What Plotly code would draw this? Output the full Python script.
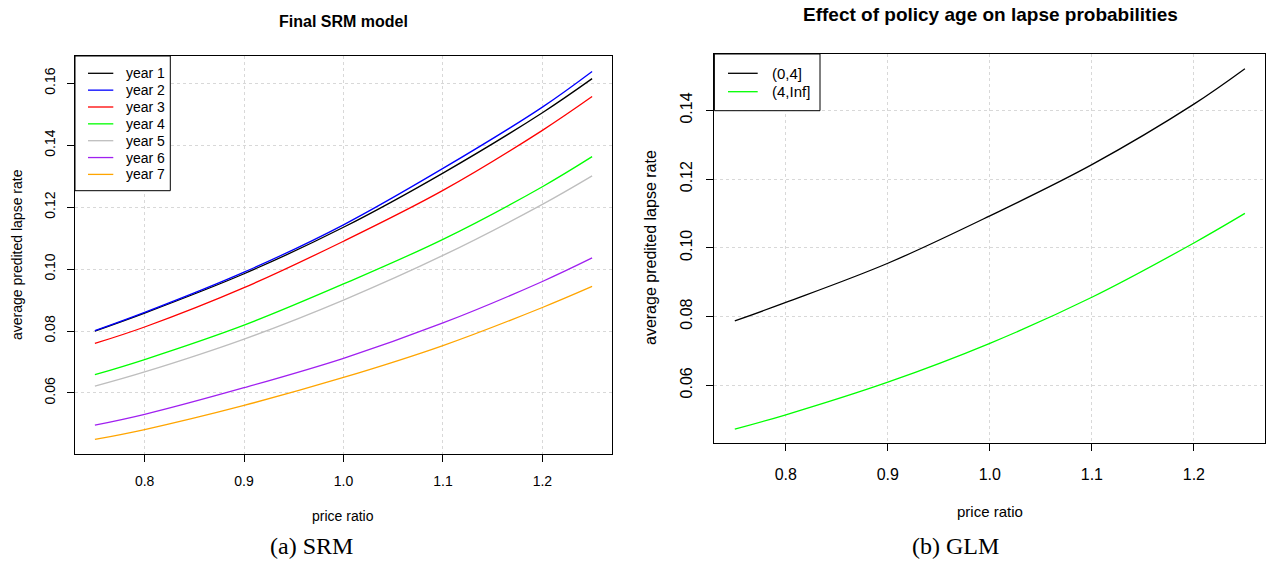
import plotly.graph_objects as go

W, H = 1266, 561

# ---- data ----
price_ratio = [0.75, 0.80, 0.90, 1.00, 1.10, 1.20, 1.25]

srm_names = ["year 1", "year 2", "year 3", "year 4", "year 5", "year 6", "year 7"]
srm_colors = ["#000000", "#0000FF", "#FF0000", "#00FF00", "#BEBEBE", "#A020F0", "#FFA500"]
year1 = [0.0800, 0.0858, 0.0985, 0.1135, 0.1310, 0.1505, 0.1615]
year2 = [0.0801, 0.0860, 0.0990, 0.1143, 0.1325, 0.1523, 0.1638]
year3 = [0.0760, 0.0813, 0.0940, 0.1090, 0.1254, 0.1448, 0.1557]
year4 = [0.0659, 0.0708, 0.0819, 0.0952, 0.1096, 0.1266, 0.1363]
year5 = [0.0622, 0.0668, 0.0774, 0.0900, 0.1044, 0.1209, 0.1301]
year6 = [0.0496, 0.0531, 0.0617, 0.0712, 0.0826, 0.0960, 0.1036]
year7 = [0.0450, 0.0482, 0.0560, 0.0650, 0.0753, 0.0876, 0.0944]
srm_series = [year1, year2, year3, year4, year5, year6, year7]

glm_names = ["(0,4]", "(4,Inf]"]
glm_colors = ["#000000", "#00FF00"]
glm_young = [0.0787, 0.0841, 0.0955, 0.1093, 0.1242, 0.1418, 0.1521]
glm_old = [0.0472, 0.0514, 0.0609, 0.0722, 0.0856, 0.1014, 0.1100]
glm_series = [glm_young, glm_old]

x_ticks = [0.8, 0.9, 1.0, 1.1, 1.2]
srm_y_ticks = [0.06, 0.08, 0.10, 0.12, 0.14, 0.16]
glm_y_ticks = [0.06, 0.08, 0.10, 0.12, 0.14]

FONT = "Liberation Sans, Arial, Helvetica, sans-serif"
SERIF = "Liberation Serif, Times New Roman, serif"


def px(x):
    return x / W


def py(y):
    return 1 - y / H


fig = go.Figure()

for name, col, vals in zip(srm_names, srm_colors, srm_series):
    fig.add_trace(go.Scatter(x=price_ratio, y=vals, mode="lines", name=name,
                             line=dict(color=col, width=1.3, shape="spline"),
                             xaxis="x", yaxis="y", showlegend=False))

for name, col, vals in zip(glm_names, glm_colors, glm_series):
    fig.add_trace(go.Scatter(x=price_ratio, y=vals, mode="lines", name=name,
                             line=dict(color=col, width=1.3, shape="spline"),
                             xaxis="x2", yaxis="y2", showlegend=False))

axis_common = dict(showline=True, linecolor="black", linewidth=1, mirror=True,
                   ticks="outside", ticklen=7, tickcolor="black", tickwidth=1,
                   showgrid=True, gridcolor="#D8D8D8", griddash="dot", gridwidth=1,
                   zeroline=False)

L_dom_x = [px(75), px(612)]
L_dom_y = [py(454.3), py(56)]
R_dom_x = [px(714.4), px(1265.3)]
R_dom_y = [py(443.3), py(54)]

fig.update_layout(
    width=W, height=H,
    margin=dict(l=0, r=0, t=0, b=0),
    paper_bgcolor="white", plot_bgcolor="white",
    font=dict(family=FONT, color="black"),
    showlegend=False,
    xaxis=dict(domain=L_dom_x, range=[0.73, 1.27], tickvals=x_ticks, tickformat=".1f",
               tickfont=dict(size=14), anchor="y", ticklabelstandoff=7, **axis_common),
    yaxis=dict(domain=L_dom_y, range=[0.0402, 0.1688], tickvals=srm_y_ticks, tickformat=".2f",
               tickfont=dict(size=14), tickangle=-90, anchor="x", ticklabelstandoff=6, **axis_common),
    xaxis2=dict(domain=R_dom_x, range=[0.73, 1.27], tickvals=x_ticks, tickformat=".1f",
                tickfont=dict(size=16), anchor="y2", ticklabelstandoff=9, **axis_common),
    yaxis2=dict(domain=R_dom_y, range=[0.0431, 0.1564], tickvals=glm_y_ticks, tickformat=".2f",
                tickfont=dict(size=16), tickangle=-90, anchor="x2", ticklabelstandoff=8, **axis_common),
)

# ---- legends (R-style boxes) ----
def add_legend(box, line_x, text_x, row_y, names, colors, size):
    x0, y0, x1, y1 = box
    fig.add_shape(type="rect", xref="paper", yref="paper",
                  x0=px(x0), x1=px(x1), y0=py(y1), y1=py(y0),
                  line=dict(color="black", width=1), fillcolor="white", layer="above")
    for name, col, yy in zip(names, colors, row_y):
        fig.add_shape(type="line", xref="paper", yref="paper",
                      x0=px(line_x[0]), x1=px(line_x[1]), y0=py(yy), y1=py(yy),
                      line=dict(color=col, width=1.3), layer="above")
        fig.add_annotation(text=name, x=px(text_x), y=py(yy), xref="paper", yref="paper",
                           xanchor="left", yanchor="middle", showarrow=False,
                           font=dict(size=size, family=FONT, color="black"))

add_legend((75, 56, 170.3, 190.7), (88, 113.3), 124,
           [73.3 + 16.85 * i for i in range(len(srm_names))], srm_names, srm_colors, 14)
add_legend((714.4, 54, 820, 110.7), (728, 757.7), 770,
           [73.3, 91.7], glm_names, glm_colors, 15)

annos = [
    dict(text="<b>Final SRM model</b>", x=px(343), y=py(22), size=16, family=FONT, angle=0),
    dict(text="price ratio", x=px(343), y=py(516), size=14, family=FONT, angle=0),
    dict(text="average predited lapse rate", x=px(17), y=py(255), size=14, family=FONT, angle=-90),
    dict(text="(a) SRM", x=px(311), y=py(546), size=24, family=SERIF, angle=0),
    dict(text="<b>Effect of policy age on lapse probabilities</b>", x=px(990), y=py(15), size=19, family=FONT, angle=0),
    dict(text="price ratio", x=px(990), y=py(511), size=15, family=FONT, angle=0),
    dict(text="average predited lapse rate", x=px(650), y=py(248), size=16, family=FONT, angle=-90),
    dict(text="(b) GLM", x=px(956), y=py(546), size=24, family=SERIF, angle=0),
]
for a in annos:
    fig.add_annotation(text=a["text"], x=a["x"], y=a["y"], xref="paper", yref="paper",
                       xanchor="center", yanchor="middle", showarrow=False, textangle=a["angle"],
                       font=dict(size=a["size"], family=a["family"], color="black"))

fig.write_html("out.html", config={"displayModeBar": False},
               post_script="document.body.style.margin='0px';")
